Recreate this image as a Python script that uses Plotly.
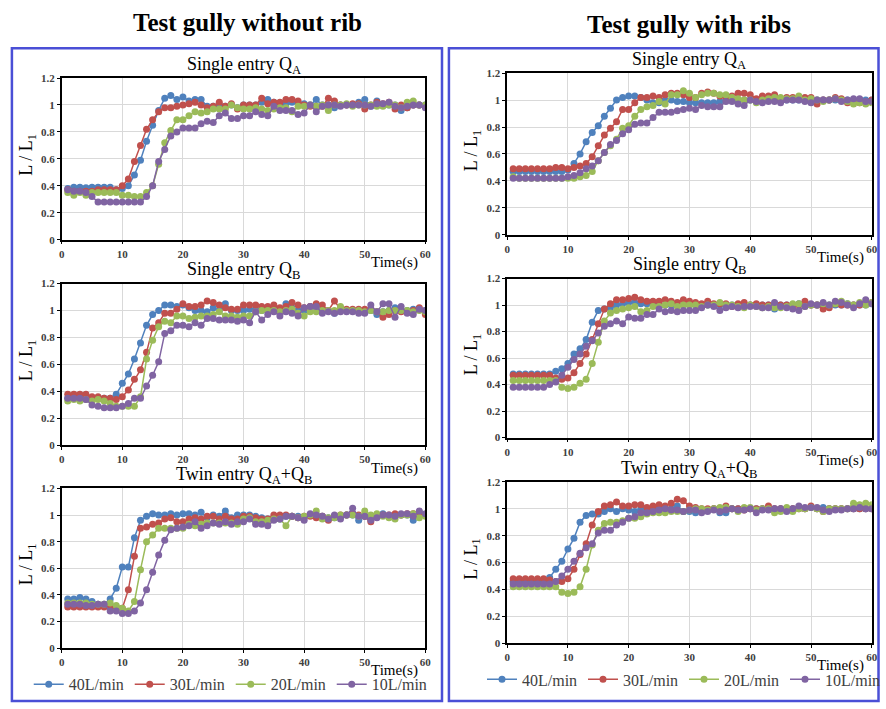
import plotly.graph_objects as go

# ---------------- DATA ----------------
time_s = list(range(1, 61))
series_names = ["40L/min", "30L/min", "20L/min", "10L/min"]
series_colors = ["#4F81BD", "#C0504D", "#9BBB59", "#8064A2"]
x_ticks = [0, 10, 20, 30, 40, 50, 60]
y_ticks = [0, 0.2, 0.4, 0.6, 0.8, 1, 1.2]

# Test gully without rib - Single entry QA
norib_qa_40 = [0.38,0.39,0.39,0.385,0.39,0.39,0.39,0.39,0.37,0.38,0.40,0.48,0.59,0.73,0.85,0.96,1.05,1.07,1.04,1.06,
               1.03,1.04,1.04,0.99,0.99,1.00,0.99,1.00,0.98,1.00,1.00,1.00,1.02,1.04,1.02,1.01,1.01,1.02,1.02,1.01,
               1.00,1.04,1.00,1.00,0.98,1.00,1.00,1.00,1.02,1.04,0.99,1.03,1.00,1.00,1.00,0.96,0.98,1.00,1.00,1.00]
norib_qa_30 = [0.37,0.36,0.36,0.36,0.36,0.37,0.37,0.37,0.37,0.40,0.45,0.58,0.70,0.82,0.89,0.95,0.98,0.98,0.99,1.00,
               1.01,1.02,1.00,0.98,0.99,1.02,0.99,1.01,0.97,1.00,1.00,1.00,1.05,1.01,1.02,1.02,1.04,1.04,1.03,1.00,
               0.99,0.99,0.99,1.05,1.03,1.00,1.00,1.01,1.01,0.97,1.00,1.02,1.01,1.02,0.97,1.00,0.98,1.00,1.00,0.99]
norib_qa_20 = [0.35,0.33,0.35,0.33,0.35,0.35,0.35,0.35,0.35,0.33,0.33,0.32,0.32,0.35,0.40,0.56,0.72,0.81,0.89,0.89,
               0.92,0.95,0.94,0.95,0.97,0.97,0.97,1.00,0.98,0.97,0.97,0.98,0.97,0.96,0.97,0.98,0.98,0.95,0.99,0.99,
               1.00,0.99,1.00,0.96,1.00,1.00,1.01,0.99,1.00,1.00,1.00,0.99,0.99,1.00,1.00,0.98,1.02,1.03,1.00,1.00]
norib_qa_10 = [0.37,0.36,0.36,0.35,0.32,0.28,0.28,0.28,0.28,0.28,0.28,0.28,0.28,0.32,0.40,0.58,0.67,0.77,0.80,0.83,
               0.83,0.83,0.86,0.88,0.87,0.92,0.94,0.90,0.90,0.92,0.92,0.95,0.93,0.92,0.99,0.96,0.96,0.96,0.93,0.94,
               1.00,0.95,0.99,1.00,1.00,0.99,1.00,1.00,1.00,1.00,0.99,1.01,1.01,1.02,0.99,0.98,0.99,1.00,1.00,0.98]

# Test gully without rib - Single entry QB
norib_qb_40 = [0.35,0.35,0.35,0.35,0.34,0.35,0.35,0.35,0.38,0.46,0.53,0.64,0.76,0.89,0.97,1.00,1.04,1.04,1.03,1.04,
               1.02,1.00,1.00,0.99,1.02,1.00,1.05,1.00,1.00,1.00,1.01,1.01,1.00,1.00,1.03,1.00,1.05,1.02,1.00,1.00,
               1.03,1.02,1.00,1.00,0.98,1.00,1.00,1.00,1.00,1.00,1.00,0.97,0.99,1.00,1.02,1.00,1.00,1.01,1.01,1.00]
norib_qb_30 = [0.38,0.38,0.38,0.38,0.36,0.36,0.35,0.35,0.34,0.36,0.41,0.49,0.56,0.69,0.87,0.91,0.98,0.98,1.01,1.05,
               1.03,1.03,1.04,1.07,1.06,1.04,1.02,1.01,1.01,1.04,1.04,1.04,1.03,1.03,1.04,1.02,1.03,1.06,1.04,1.02,
               1.03,1.05,1.04,1.00,1.07,1.01,1.01,1.01,1.01,1.01,1.01,0.99,0.95,0.97,1.00,0.99,0.99,1.00,1.02,0.97]
norib_qb_20 = [0.33,0.34,0.33,0.34,0.33,0.34,0.33,0.31,0.29,0.29,0.29,0.29,0.36,0.64,0.78,0.88,0.92,0.91,0.96,0.96,
               0.94,0.95,0.96,0.96,0.97,0.99,0.96,0.96,0.95,0.96,0.96,0.99,1.00,1.00,1.00,0.99,1.00,1.01,0.98,0.96,
               0.99,0.99,1.00,1.00,1.00,1.03,1.00,1.00,1.00,0.99,1.00,0.99,0.99,1.00,1.00,1.00,1.00,0.99,1.00,0.99]
norib_qb_10 = [0.35,0.35,0.35,0.34,0.30,0.29,0.28,0.28,0.28,0.29,0.31,0.35,0.35,0.44,0.52,0.62,0.83,0.85,0.89,0.89,
               0.88,0.91,0.89,0.94,0.94,0.93,0.93,0.93,0.92,0.93,0.91,0.99,0.93,0.97,0.99,0.96,0.99,0.98,0.96,1.02,
               1.03,1.03,0.98,0.99,0.98,0.99,0.99,0.99,0.98,0.98,1.04,0.99,1.05,1.05,0.95,1.03,0.98,0.97,1.01,1.00]

# Test gully without rib - Twin entry QA+QB
norib_tw_40 = [0.37,0.37,0.38,0.37,0.35,0.33,0.33,0.37,0.45,0.61,0.61,0.83,0.96,0.99,1.01,1.00,1.00,1.01,1.00,1.01,
               1.01,1.00,1.02,0.98,1.00,0.99,1.03,0.98,1.00,1.00,1.00,0.99,0.98,0.97,0.98,0.97,0.99,0.99,0.99,0.98,
               1.00,1.00,0.99,0.98,0.98,0.99,1.00,1.00,0.96,0.99,0.97,1.00,1.01,0.99,1.00,1.00,1.00,0.96,1.02,1.00]
norib_tw_30 = [0.31,0.31,0.31,0.31,0.31,0.31,0.31,0.31,0.31,0.30,0.44,0.69,0.90,0.91,0.93,0.94,0.97,0.98,0.95,0.95,
               0.97,0.98,0.97,0.99,0.99,0.97,0.99,0.97,0.97,0.99,0.99,0.98,0.97,0.97,1.00,1.00,1.00,0.99,0.98,0.99,
               0.99,0.98,0.99,0.96,0.99,1.00,1.00,1.01,1.00,0.99,0.95,0.99,1.00,1.00,1.01,1.00,1.01,1.01,1.00,1.00]
norib_tw_20 = [0.34,0.34,0.34,0.34,0.33,0.33,0.33,0.34,0.32,0.30,0.28,0.35,0.59,0.80,0.85,0.90,0.90,0.90,0.90,0.90,
               0.93,0.92,0.93,0.94,0.94,0.94,0.94,0.94,0.93,0.97,0.98,0.95,0.95,0.96,0.97,0.97,0.92,0.99,0.98,0.99,
               1.00,1.03,0.97,0.98,0.98,1.00,1.00,1.00,0.99,1.03,1.00,1.01,0.99,0.98,0.97,1.00,1.00,1.01,0.98,0.99]
norib_tw_10 = [0.33,0.33,0.33,0.32,0.32,0.33,0.33,0.28,0.28,0.26,0.26,0.28,0.34,0.44,0.57,0.70,0.81,0.89,0.90,0.91,
               0.92,0.95,0.90,0.92,0.94,0.93,0.95,0.93,0.95,0.95,0.97,0.93,0.93,0.92,0.96,0.97,0.99,0.99,0.98,0.96,
               1.01,1.00,0.99,0.97,1.00,0.97,1.00,1.05,0.99,0.99,0.96,0.98,1.00,1.00,0.99,1.01,1.01,0.99,1.03,1.01]

# Test gully with ribs - Single entry QA
rib_qa_40 = [0.47,0.47,0.47,0.47,0.47,0.47,0.47,0.47,0.47,0.48,0.53,0.60,0.69,0.76,0.81,0.88,0.94,1.00,1.02,1.03,
             1.03,1.02,1.00,0.98,0.98,1.00,1.00,0.99,0.99,0.98,0.98,0.98,0.98,0.98,0.99,1.00,1.00,1.00,1.00,1.00,
             1.00,0.99,1.00,1.00,1.00,1.00,1.00,1.00,1.00,1.00,1.00,1.00,1.00,1.00,1.00,1.00,1.00,1.00,1.00,1.00]
rib_qa_30 = [0.49,0.49,0.49,0.49,0.49,0.49,0.49,0.50,0.50,0.49,0.50,0.51,0.53,0.58,0.66,0.74,0.79,0.84,0.93,0.93,
             0.98,1.02,1.02,1.03,1.02,1.04,1.05,1.05,1.04,1.02,1.02,1.05,1.06,1.05,1.03,1.02,1.03,1.05,1.05,1.04,
             1.01,1.03,1.03,1.04,1.01,1.02,1.02,1.02,1.02,1.02,0.97,1.00,1.00,1.02,1.01,0.98,0.98,0.98,0.98,1.00]
rib_qa_20 = [0.43,0.42,0.42,0.42,0.42,0.42,0.42,0.42,0.42,0.42,0.42,0.43,0.44,0.47,0.55,0.61,0.66,0.71,0.79,0.81,
             0.88,0.93,0.95,0.96,0.99,0.97,1.04,1.04,1.07,1.05,1.02,1.04,1.05,1.05,1.04,1.04,1.02,1.01,1.00,1.00,
             0.98,1.00,1.01,1.02,1.02,1.01,1.01,1.03,1.00,1.01,1.00,0.99,1.00,1.01,1.00,0.99,0.97,0.98,0.97,0.98]
rib_qa_10 = [0.42,0.42,0.42,0.42,0.42,0.42,0.42,0.42,0.42,0.43,0.44,0.46,0.49,0.51,0.55,0.61,0.67,0.70,0.75,0.78,
             0.82,0.83,0.83,0.87,0.91,0.91,0.91,0.92,0.93,0.94,0.93,0.96,0.95,0.95,0.95,0.99,0.99,0.97,0.96,1.00,
             0.99,0.98,0.99,0.99,0.98,1.00,1.00,1.00,0.99,0.98,1.00,1.00,1.00,1.01,0.99,1.00,1.01,1.01,0.99,0.99]

# Test gully with ribs - Single entry QB
rib_qb_40 = [0.48,0.48,0.48,0.48,0.48,0.48,0.48,0.50,0.52,0.56,0.63,0.67,0.74,0.87,0.96,0.97,0.98,1.00,1.01,1.02,
             1.02,1.01,1.01,1.00,1.00,1.00,1.00,1.00,1.00,1.00,1.00,1.00,1.00,1.00,1.00,1.00,1.00,1.00,1.00,1.00,
             1.00,1.00,1.00,0.97,1.00,1.00,1.00,1.01,1.00,1.00,1.00,1.00,1.00,1.00,1.00,1.01,1.00,1.00,1.00,1.01]
rib_qb_30 = [0.47,0.47,0.47,0.47,0.47,0.47,0.47,0.45,0.44,0.45,0.49,0.56,0.63,0.74,0.86,0.97,1.01,1.04,1.04,1.05,
             1.06,1.04,1.03,1.03,1.03,1.04,1.03,1.02,1.04,1.03,1.02,1.01,1.03,1.01,1.01,1.01,0.99,1.01,1.02,1.00,
             1.01,1.00,1.00,1.00,1.00,1.00,1.00,1.00,1.03,1.00,1.00,0.97,0.98,1.01,1.00,1.00,1.00,1.00,1.01,1.02]
rib_qb_20 = [0.43,0.43,0.43,0.43,0.43,0.43,0.43,0.43,0.38,0.37,0.38,0.41,0.44,0.56,0.72,0.88,0.94,0.96,0.97,0.98,
             0.99,0.95,0.96,0.99,0.99,1.00,1.01,0.99,1.00,1.00,1.00,0.99,1.00,1.00,1.02,1.00,1.00,0.99,0.98,1.00,
             0.99,0.98,0.99,0.98,0.98,0.99,1.01,1.01,0.99,1.00,1.00,1.01,1.00,1.01,1.03,1.01,1.00,1.02,1.00,1.02]
rib_qb_10 = [0.38,0.38,0.38,0.38,0.38,0.38,0.40,0.42,0.47,0.53,0.59,0.63,0.69,0.73,0.79,0.84,0.86,0.88,0.86,0.91,
             0.90,0.90,0.93,0.93,0.97,0.95,0.96,0.95,0.96,0.96,0.96,0.98,1.00,0.99,0.96,0.98,0.99,0.98,0.99,0.99,
             0.99,0.98,0.98,1.02,0.99,0.98,0.97,0.96,0.99,1.01,1.00,1.02,1.00,1.03,1.02,1.00,0.98,1.01,1.04,1.01]

# Test gully with ribs - Twin entry QA+QB
rib_tw_40 = [0.46,0.46,0.46,0.46,0.46,0.46,0.49,0.55,0.61,0.70,0.78,0.90,0.95,0.96,0.96,0.98,1.00,0.98,1.00,0.99,
             0.98,1.00,0.99,0.99,1.00,1.00,1.00,1.02,0.98,0.98,0.97,0.98,0.99,1.00,0.97,0.97,1.00,1.00,1.00,1.00,
             1.00,1.00,1.00,1.00,1.00,1.00,1.00,1.01,1.00,1.01,1.00,1.01,1.00,1.00,1.00,1.00,1.00,1.00,1.00,1.00]
rib_tw_30 = [0.48,0.48,0.48,0.48,0.48,0.48,0.47,0.46,0.46,0.48,0.55,0.66,0.74,0.88,0.98,1.02,1.03,1.05,1.02,1.02,
             1.03,1.03,1.01,1.02,1.03,1.02,1.04,1.07,1.06,1.02,1.01,1.00,1.00,1.00,1.00,1.02,1.00,1.00,0.99,1.00,
             1.00,1.00,1.02,1.00,1.00,1.00,1.00,1.00,1.00,1.02,1.00,0.98,1.00,1.00,1.00,1.00,1.00,1.00,1.00,1.00]
rib_tw_20 = [0.42,0.42,0.42,0.42,0.42,0.42,0.42,0.42,0.38,0.37,0.38,0.42,0.55,0.73,0.84,0.89,0.90,0.90,0.91,0.93,
             0.93,0.94,0.96,0.97,0.97,0.97,0.98,0.98,0.98,0.99,1.00,1.00,0.99,1.00,1.01,1.01,1.00,0.98,1.01,1.01,
             0.99,1.00,1.00,0.97,0.98,1.01,0.98,1.00,1.00,1.01,1.00,0.98,1.00,1.00,1.00,1.00,1.04,1.03,1.04,1.03]
rib_tw_10 = [0.44,0.44,0.44,0.44,0.44,0.44,0.44,0.46,0.50,0.55,0.61,0.67,0.71,0.74,0.82,0.84,0.84,0.88,0.90,0.93,
             0.94,0.97,0.97,0.98,0.99,1.00,0.99,0.99,0.98,0.99,0.99,0.97,0.98,0.99,0.98,0.99,1.00,0.99,0.99,1.00,
             0.97,0.99,0.99,1.00,1.00,0.98,1.00,1.02,1.01,1.01,1.01,0.99,0.98,0.99,0.99,1.00,1.00,1.01,1.00,1.00]

panel_titles = ["Single entry Q<sub>A</sub>", "Single entry Q<sub>B</sub>", "Twin entry Q<sub>A</sub>+Q<sub>B</sub>"]
group_titles = ["Test gully without rib", "Test gully with ribs"]

panel_data = [
    [norib_qa_40, norib_qa_30, norib_qa_20, norib_qa_10],
    [norib_qb_40, norib_qb_30, norib_qb_20, norib_qb_10],
    [norib_tw_40, norib_tw_30, norib_tw_20, norib_tw_10],
    [rib_qa_40, rib_qa_30, rib_qa_20, rib_qa_10],
    [rib_qb_40, rib_qb_30, rib_qb_20, rib_qb_10],
    [rib_tw_40, rib_tw_30, rib_tw_20, rib_tw_10],
]

# ---------------- LAYOUT (pixels) ----------------
W, H = 886, 709
def px(x): return x / W
def py(y): return 1 - y / H

# (x_left, x_right, y_top, y_bottom) in pixels for each plot area
boxes = [
    (59.3, 426.7, 73.3, 237.7),
    (59.3, 426.7, 282.3, 447.0),
    (59.3, 426.7, 490.7, 653.3),
    (509.3, 877.7, 68.3, 232.7),
    (509.3, 877.7, 277.3, 439.0),
    (509.3, 877.7, 484.0, 648.3),
]

SERIF = "Liberation Serif"
fig = go.Figure()
layout = dict(
    width=W, height=H, margin=dict(l=0, r=0, t=0, b=0),
    paper_bgcolor="white", plot_bgcolor="white",
    font=dict(family=SERIF, color="black"),
    annotations=[], shapes=[],
)

for i, (box, data) in enumerate(zip(boxes, panel_data)):
    k = i + 1
    xa = "xaxis" if k == 1 else f"xaxis{k}"
    ya = "yaxis" if k == 1 else f"yaxis{k}"
    xr = "x" if k == 1 else f"x{k}"
    yr = "y" if k == 1 else f"y{k}"
    x0, x1, y0, y1 = box
    layout[xa] = dict(
        domain=[px(x0), px(x1)], anchor=yr, range=[0, 60],
        tickvals=x_ticks, ticktext=[str(v) for v in x_ticks],
        showgrid=True, gridcolor="#d9d9d9", gridwidth=1,
        showline=True, linecolor="black", linewidth=1.6, mirror=True,
        ticks="outside", ticklen=3, tickcolor="black", zeroline=False,
        tickfont=dict(family=SERIF, size=11, color="#404040", weight="bold"),
        fixedrange=True,
    )
    layout[ya] = dict(
        domain=[py(y1), py(y0)], anchor=xr, range=[0, 1.2],
        tickvals=y_ticks, ticktext=["0", "0.2", "0.4", "0.6", "0.8", "1", "1.2"],
        showgrid=True, gridcolor="#d9d9d9", gridwidth=1,
        showline=True, linecolor="black", linewidth=1.6, mirror=True,
        ticks="outside", ticklen=3, tickcolor="black", zeroline=False,
        tickfont=dict(family=SERIF, size=11, color="#404040", weight="bold"),
        fixedrange=True,
    )
    legend_id = None
    if k == 3:
        legend_id = "legend"
    elif k == 6:
        legend_id = "legend2"
    for name, color, vals in zip(series_names, series_colors, data):
        fig.add_trace(go.Scatter(
            x=time_s, y=vals, mode="lines+markers", name=name,
            line=dict(color=color, width=1.5),
            marker=dict(color=color, size=7, symbol="circle"),
            xaxis=xr, yaxis=yr,
            showlegend=legend_id is not None,
            legend=legend_id if legend_id else "legend",
        ))
    col = 0 if k <= 3 else 1
    row = (k - 1) % 3
    layout["annotations"].append(dict(
        text=panel_titles[row], x=px((x0 + x1) / 2), y=py(y0 - 13),
        xref="paper", yref="paper", showarrow=False, xanchor="center", yanchor="middle",
        font=dict(family=SERIF, size=18, color="black"),
    ))
    ytx = 25 if col == 0 else 474
    layout["annotations"].append(dict(
        text="L / L<sub>1</sub>", x=px(ytx), y=py((y0 + y1) / 2 - 4),
        xref="paper", yref="paper", showarrow=False, textangle=-90,
        xanchor="center", yanchor="middle",
        font=dict(family=SERIF, size=18, color="black"),
    ))
    layout["annotations"].append(dict(
        text="Time(s)", x=px(x0 + 54.9 * (x1 - x0) / 60), y=py(y1 + 23),
        xref="paper", yref="paper", showarrow=False,
        xanchor="center", yanchor="middle",
        font=dict(family=SERIF, size=15, color="black"),
    ))

layout["annotations"].append(dict(
    text="<b>" + group_titles[0] + "</b>", x=px(247), y=py(17), xref="paper", yref="paper",
    showarrow=False, xanchor="center", yanchor="middle",
    font=dict(family=SERIF, size=25, color="black"),
))
layout["annotations"].append(dict(
    text="<b>" + group_titles[1] + "</b>", x=px(693), y=py(19), xref="paper", yref="paper",
    showarrow=False, xanchor="center", yanchor="middle",
    font=dict(family=SERIF, size=25, color="black"),
))

frame_color = "#4a4fd6"
layout["shapes"].append(dict(type="rect", xref="paper", yref="paper",
                             x0=px(9), x1=px(443.5), y0=py(707), y1=py(43),
                             line=dict(color=frame_color, width=2.5)))
layout["shapes"].append(dict(type="rect", xref="paper", yref="paper",
                             x0=px(450.5), x1=px(884.5), y0=py(707), y1=py(43),
                             line=dict(color=frame_color, width=2.5)))

legend_common = dict(
    orientation="h", xanchor="left", yanchor="middle",
    font=dict(family=SERIF, size=16, color="#404040"),
    bgcolor="rgba(0,0,0,0)", itemwidth=30, tracegroupgap=0,
    entrywidth=56, entrywidthmode="pixels",
)
layout["legend"] = dict(x=px(26), y=py(690), **legend_common)
layout["legend2"] = dict(x=px(484), y=py(685), **legend_common)

fig.update_layout(**layout)
fig.write_html("out.html")
